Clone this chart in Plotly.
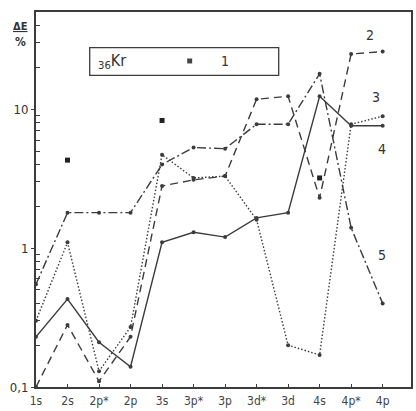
import plotly.graph_objects as go

cats = ["1s", "2s", "2p*", "2p", "3s", "3p*", "3p", "3d*", "3d", "4s", "4p*", "4p"]
tick_labels = ["1s", "2s", "2p*", "2p", "3s", "3p*", "3p", "3d*", "3d", "4s", "4p*", "4p"]
s1 = [None, 4.3, None, None, 8.3, None, None, None, None, 3.2, None, None]
s2 = [0.1, 0.28, 0.11, 0.23, 2.8, 3.1, 3.3, 11.8, 12.4, 2.3, 25, 26]
s3 = [0.3, 1.1, 0.13, 0.27, 4.7, 3.2, 3.3, 1.6, 0.2, 0.17, 7.8, 8.9]
s4 = [0.23, 0.43, 0.21, 0.14, 1.1, 1.3, 1.2, 1.65, 1.8, 12.4, 7.6, 7.6]
s5 = [0.55, 1.8, 1.8, 1.8, 4.0, 5.3, 5.2, 7.8, 7.8, 18, 1.4, 0.4]
y_ticks = [0.1, 1, 10]
y_tick_labels = ["0,1", "1", "10"]
y_minor = [0.2, 0.3, 0.4, 0.5, 0.6, 0.7, 0.8, 0.9,
           2, 3, 4, 5, 6, 7, 8, 9, 20, 30, 40]

W, H = 416, 411
L, R, T, B = 36, 3, 12, 20
pw, ph = W - L - R, H - T - B

def px(x):
    return (x - L) / pw

def py(y):
    return (H - B - y) / ph

ink = "#3c3c3c"
FONT = "DejaVu Sans Condensed, Liberation Sans Narrow, Arial"
xs = list(range(len(cats)))

fig = go.Figure()

def line(vals, dash):
    fig.add_trace(go.Scatter(
        x=xs, y=vals, mode="lines+markers",
        line=dict(color=ink, width=1.4, dash=dash),
        marker=dict(color=ink, size=4),
        showlegend=False, hoverinfo="skip"))

line(s2, "8px,5px")
line(s3, "1.5px,2px")
line(s4, "solid")
line(s5, "9px,3px,2px,3px")

fig.add_trace(go.Scatter(
    x=xs, y=s1, mode="markers",
    marker=dict(color="#222", size=5, symbol="square"),
    showlegend=False, hoverinfo="skip"))

fig.update_xaxes(
    range=[0, 11.9], tickvals=xs, ticktext=tick_labels,
    showline=True, linecolor=ink, linewidth=1.6, mirror=True,
    ticks="inside", ticklen=3, tickcolor=ink,
    showgrid=False, zeroline=False, ticklabelstandoff=2,
    tickfont=dict(family=FONT, size=12, color="#444"))
fig.update_yaxes(
    type="log", range=[-1, 1.70], tickvals=y_ticks, ticktext=y_tick_labels,
    showline=True, linecolor=ink, linewidth=2, mirror=True,
    ticks="outside", ticklen=3, tickcolor=ink,
    minor=dict(tickvals=y_minor, ticks="inside", ticklen=4,
               tickcolor=ink, tickwidth=1, showgrid=False),
    showgrid=False, zeroline=False,
    tickfont=dict(family=FONT, size=13, color="#333"))

# legend box
fig.add_shape(type="rect", xref="paper", yref="paper",
              x0=px(90), x1=px(280), y0=py(76), y1=py(48),
              line=dict(color=ink, width=1.3), fillcolor="white")
fig.add_shape(type="rect", xref="paper", yref="paper",
              x0=px(188), x1=px(193), y0=py(64), y1=py(59),
              line=dict(color="#444", width=0), fillcolor="#444")
ann = [
    dict(x=px(96), y=py(62), text="<sub>36</sub>Kr", xanchor="left", size=16),
    dict(x=px(226), y=py(62), text="1", xanchor="center", size=14),
    dict(x=px(372), y=py(35), text="2", xanchor="center", size=14),
    dict(x=px(378), y=py(98), text="3", xanchor="center", size=14),
    dict(x=px(384), y=py(150), text="4", xanchor="center", size=14),
    dict(x=px(384), y=py(258), text="5", xanchor="center", size=14),
]
for a in ann:
    fig.add_annotation(x=a["x"], y=a["y"], xref="paper", yref="paper",
                       text=a["text"], showarrow=False, xanchor=a["xanchor"],
                       yanchor="middle",
                       font=dict(family=FONT, size=a["size"], color="#333"))
# y label
fig.add_annotation(x=px(20), y=py(27), xref="paper", yref="paper",
                   text="<u><b>ΔE</b></u>", showarrow=False, xanchor="center",
                   yanchor="middle", font=dict(family=FONT, size=11, color="#333"))
fig.add_annotation(x=px(20), y=py(42), xref="paper", yref="paper",
                   text="<b>%</b>", showarrow=False, xanchor="center",
                   yanchor="middle", font=dict(family=FONT, size=12, color="#333"))

fig.update_layout(
    width=W, height=H, margin=dict(l=L, r=R, t=T, b=B),
    paper_bgcolor="white", plot_bgcolor="white")

fig.write_html("out.html", config={"displayModeBar": False},
               post_script="document.body.style.margin='0';document.body.style.padding='0';")
